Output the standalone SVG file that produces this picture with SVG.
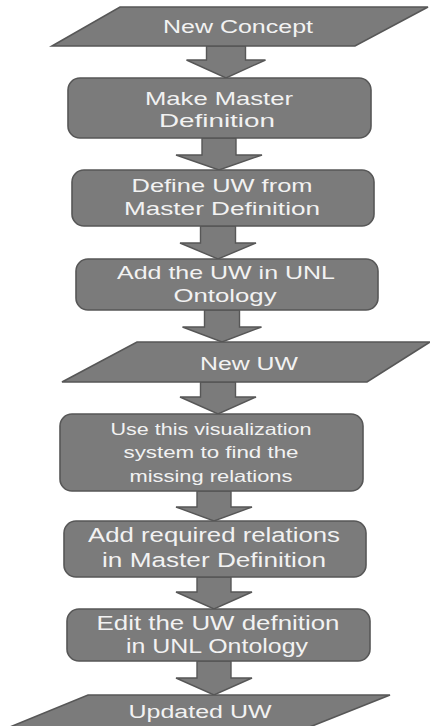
<svg xmlns="http://www.w3.org/2000/svg" width="430" height="726" viewBox="0 0 430 726">
  <style>
    .shape { fill: #7b7b7b; stroke: #575757; stroke-width: 1.6; stroke-linejoin: miter; }
    .arrow { fill: #7b7b7b; stroke: #575757; stroke-width: 1.4; stroke-linejoin: miter; }
    .lbl { font-family: "Liberation Sans", Arial, sans-serif; fill: #f2f2f2; text-anchor: middle; }
  </style>
  <rect width="430" height="726" fill="#ffffff"/>

  <!-- block arrows between steps -->
  <g id="connectors">
    <polygon class="arrow" points="206.5,46 245.5,46 245.5,60 265.5,60 226,78 186.5,60 206.5,60"/>
    <polygon class="arrow" points="202,138 236,138 236,155 262,155 219,170 176,155 202,155"/>
    <polygon class="arrow" points="200.5,226 235.5,226 235.5,243 256,243 218,259 180,243 200.5,243"/>
    <polygon class="arrow" points="204.5,310 239.5,310 239.5,327 261.5,327 222,342 182.5,327 204.5,327"/>
    <polygon class="arrow" points="200.5,382 235.5,382 235.5,397 256,397 218,414 180,397 200.5,397"/>
    <polygon class="arrow" points="197,491 231,491 231,507 252,507 214,521 176,507 197,507"/>
    <polygon class="arrow" points="197,577 231,577 231,592 252,592 214,609 176,592 197,592"/>
    <polygon class="arrow" points="197,661 231,661 231,678 252,678 214,695 176,678 197,678"/>
  </g>

  <g id="new-concept">
    <polygon class="shape" points="120,7 428,7 355,46 52,46"/>
    <text class="lbl" x="238" y="33" font-size="18" textLength="150" lengthAdjust="spacingAndGlyphs">New Concept</text>
  </g>

  <g id="make-master-definition">
    <rect class="shape" x="68" y="78" width="303" height="60" rx="12"/>
    <text class="lbl" x="219" y="105" font-size="18.5" textLength="148" lengthAdjust="spacingAndGlyphs">Make Master</text>
    <text class="lbl" x="217" y="127" font-size="18.5" textLength="116" lengthAdjust="spacingAndGlyphs">Definition</text>
  </g>

  <g id="define-uw">
    <rect class="shape" x="72" y="170" width="302" height="56" rx="12"/>
    <text class="lbl" x="222" y="192" font-size="19" textLength="181" lengthAdjust="spacingAndGlyphs">Define UW from</text>
    <text class="lbl" x="222" y="215" font-size="19" textLength="196" lengthAdjust="spacingAndGlyphs">Master Definition</text>
  </g>

  <g id="add-uw-ontology">
    <rect class="shape" x="76" y="259" width="302" height="51" rx="12"/>
    <text class="lbl" x="226" y="279" font-size="19" textLength="218" lengthAdjust="spacingAndGlyphs">Add the UW in UNL</text>
    <text class="lbl" x="225" y="302" font-size="19" textLength="103" lengthAdjust="spacingAndGlyphs">Ontology</text>
  </g>

  <g id="new-uw">
    <polygon class="shape" points="137,342 430,342 367,382 62,382"/>
    <text class="lbl" x="249" y="370" font-size="18" textLength="98" lengthAdjust="spacingAndGlyphs">New UW</text>
  </g>

  <g id="visualization-step">
    <rect class="shape" x="60" y="414" width="303" height="77" rx="12"/>
    <text class="lbl" x="211" y="435" font-size="16.5" textLength="201" lengthAdjust="spacingAndGlyphs">Use this visualization</text>
    <text class="lbl" x="211" y="458" font-size="16.5" textLength="175" lengthAdjust="spacingAndGlyphs">system to find the</text>
    <text class="lbl" x="211" y="482" font-size="16.5" textLength="163" lengthAdjust="spacingAndGlyphs">missing relations</text>
  </g>

  <g id="add-relations">
    <rect class="shape" x="64" y="521" width="302" height="56" rx="12"/>
    <text class="lbl" x="214" y="542" font-size="20.5" textLength="252" lengthAdjust="spacingAndGlyphs">Add required relations</text>
    <text class="lbl" x="214" y="567" font-size="20.5" textLength="224" lengthAdjust="spacingAndGlyphs">in Master Definition</text>
  </g>

  <g id="edit-uw-definition">
    <rect class="shape" x="67" y="609" width="303" height="52" rx="12"/>
    <text class="lbl" x="218" y="630" font-size="20" textLength="243" lengthAdjust="spacingAndGlyphs">Edit the UW defnition</text>
    <text class="lbl" x="217" y="653" font-size="20" textLength="182" lengthAdjust="spacingAndGlyphs">in UNL Ontology</text>
  </g>

  <g id="updated-uw">
    <polygon class="shape" points="88,695 390,695 287,736 -12,736"/>
    <text class="lbl" x="200" y="718" font-size="18" textLength="143" lengthAdjust="spacingAndGlyphs">Updated UW</text>
  </g>
</svg>
